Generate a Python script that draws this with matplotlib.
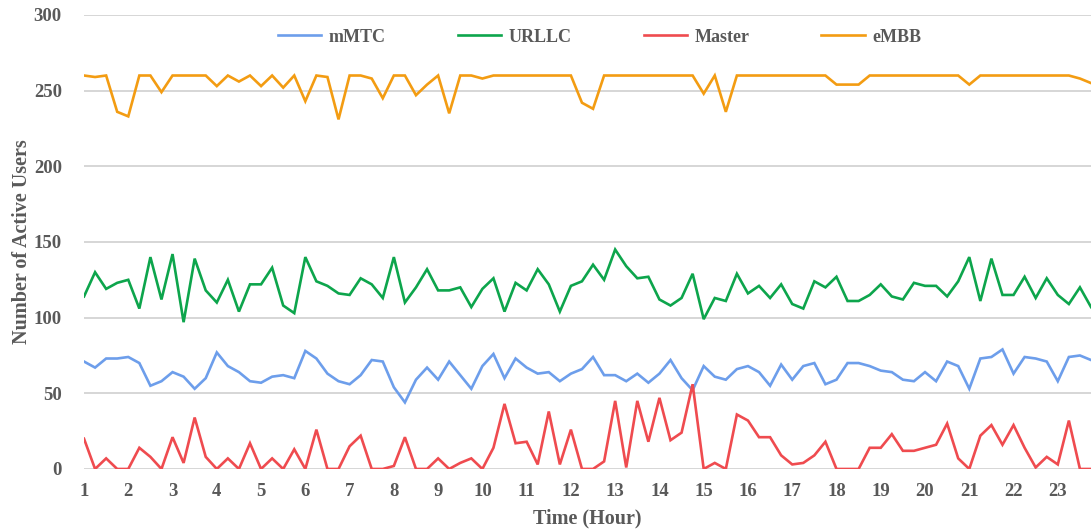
import numpy as np
import matplotlib
matplotlib.use("Agg")
import matplotlib.pyplot as plt

# one sample every 15 minutes, hour 1 .. 23.75
hours = np.arange(92) * 0.25 + 1

mmtc = [71, 67, 73, 73, 74, 70, 55, 58, 64, 61, 53, 60, 77, 68, 64, 58, 57, 61, 62, 60,
        78, 73, 63, 58, 56, 62, 72, 71, 54, 44, 59, 67, 59, 71, 62, 53, 68, 76, 60, 73,
        67, 63, 64, 58, 63, 66, 74, 62, 62, 58, 63, 57, 63, 72, 60, 52, 68, 61, 59, 66,
        68, 64, 55, 69, 59, 68, 70, 56, 59, 70, 70, 68, 65, 64, 59, 58, 64, 58, 71, 68,
        53, 73, 74, 79, 63, 74, 73, 71, 58, 74, 75, 72]

urllc = [114, 130, 119, 123, 125, 106, 140, 112, 142, 97, 139, 118, 110, 125, 104, 122,
         122, 133, 108, 103, 140, 124, 121, 116, 115, 126, 122, 113, 140, 110, 120, 132,
         118, 118, 120, 107, 119, 126, 104, 123, 118, 132, 122, 104, 121, 124, 135, 125,
         145, 134, 126, 127, 112, 108, 113, 129, 99, 113, 111, 129, 116, 121, 113, 122,
         109, 106, 124, 120, 127, 111, 111, 115, 122, 114, 112, 123, 121, 121, 114, 124,
         140, 111, 139, 115, 115, 127, 113, 126, 115, 109, 120, 107]

master = [20, 0, 7, 0, 0, 14, 8, 0, 21, 4, 34, 8, 0, 7, 0, 17, 0, 7, 0, 13,
          0, 26, 0, 0, 15, 22, 0, 0, 2, 21, 0, 0, 7, 0, 4, 7, 0, 14, 43, 17,
          18, 3, 38, 3, 26, 0, 0, 5, 45, 1, 45, 18, 47, 19, 24, 56, 0, 4, 0, 36,
          32, 21, 21, 9, 3, 4, 9, 18, 0, 0, 0, 14, 14, 23, 12, 12, 14, 16, 30, 7,
          0, 22, 29, 16, 29, 14, 1, 8, 3, 32, 0, 0]

embb = [260, 259, 260, 236, 233, 260, 260, 249, 260, 260, 260, 260, 253, 260, 256, 260,
        253, 260, 252, 260, 243, 260, 259, 231, 260, 260, 258, 245, 260, 260, 247, 254,
        260, 235, 260, 260, 258, 260, 260, 260, 260, 260, 260, 260, 260, 242, 238, 260,
        260, 260, 260, 260, 260, 260, 260, 260, 248, 260, 236, 260, 260, 260, 260, 260,
        260, 260, 260, 260, 254, 254, 254, 260, 260, 260, 260, 260, 260, 260, 260, 260,
        254, 260, 260, 260, 260, 260, 260, 260, 260, 260, 258, 255]

series = [("mMTC", mmtc, "#6D9EEB"),
          ("URLLC", urllc, "#0DA54C"),
          ("Master", master, "#EF4B4F"),
          ("eMBB", embb, "#F39C12")]

text_color = "#595959"
plt.rcParams["font.family"] = ["Liberation Serif", "DejaVu Serif"]
plt.rcParams["font.weight"] = "bold"

fig = plt.figure(figsize=(10.91, 5.31), dpi=100)
ax = fig.add_axes([0.077, 0.1168, 0.923, 0.855])

for name, values, color in series:
    ax.plot(hours, values, color=color, lw=1.9, label=name, solid_joinstyle="miter")

ax.set_xlim(1, 23.75)
ax.set_ylim(0, 300)
ax.set_xticks(range(1, 24))
ax.set_yticks(range(0, 301, 50))
ax.grid(axis="y", color="#d0d0d0", lw=1.2)
ax.set_axisbelow(True)
for side in ax.spines:
    ax.spines[side].set_visible(False)
ax.tick_params(length=0, labelsize=13.5, labelcolor=text_color)
ax.tick_params(axis="x", pad=10)
ax.tick_params(axis="y", pad=16)
for lab in ax.get_xticklabels() + ax.get_yticklabels():
    lab.set_fontweight("bold")

ax.set_xlabel("Time (Hour)", fontsize=14.5, fontweight="bold", color=text_color, labelpad=6)
ax.set_ylabel("Number of Active Users", fontsize=14.5, fontweight="bold", color=text_color, labelpad=1)

leg = ax.legend(loc="center", bbox_to_anchor=(0.512, 0.951), ncol=4, frameon=False,
                handlelength=2.4, handletextpad=0.4, columnspacing=4.0,
                prop={"weight": "bold", "size": 13})
for t in leg.get_texts():
    t.set_color(text_color)

fig.savefig("out.png", dpi=100)
